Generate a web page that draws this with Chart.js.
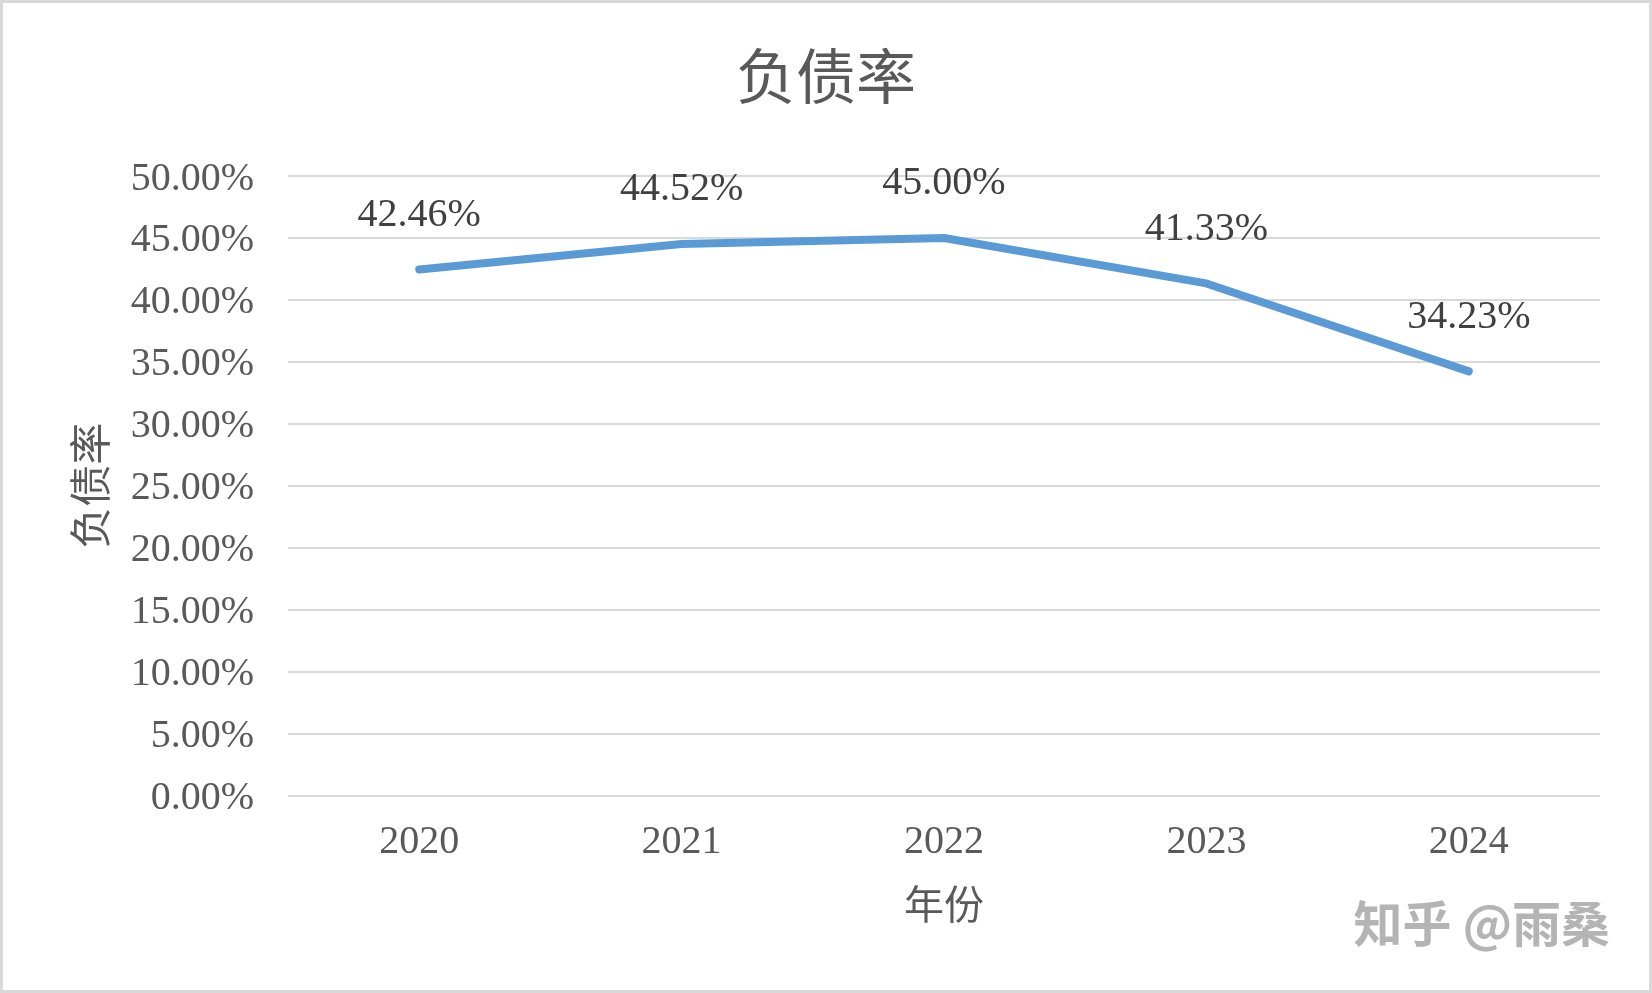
<!DOCTYPE html>
<html>
<head>
<meta charset="utf-8">
<script src="https://cdn.jsdelivr.net/npm/chart.js@4/dist/chart.umd.min.js"></script>
<style>
  body { margin: 0; background: #fff; }
  canvas { display: block; }
</style>
</head>
<body>
<canvas id="debtChart" width="1652" height="993"></canvas>
<script>
const years = ["2020", "2021", "2022", "2023", "2024"];
const debtRatio = [42.46, 44.52, 45.00, 41.33, 34.23];
const yMin = 0;
const yMax = 50;
const yStep = 5;

const cjk = '"Noto Sans CJK SC", "Noto Sans", sans-serif';
const serif = '"Liberation Serif", "DejaVu Serif", serif';

// white background + grey frame
const framePlugin = {
  id: "frame",
  beforeDraw(chart) {
    const ctx = chart.ctx;
    ctx.save();
    ctx.fillStyle = "#ffffff";
    ctx.fillRect(0, 0, chart.width, chart.height);
    ctx.restore();
  },
  afterDraw(chart) {
    const ctx = chart.ctx;
    ctx.save();
    ctx.strokeStyle = "#d9d9d9";
    ctx.lineWidth = 3;
    ctx.strokeRect(1.5, 1.5, chart.width - 3, chart.height - 3);
    // watermark
    ctx.font = "bold 49px " + cjk;
    ctx.fillStyle = "#b4b4b4";
    ctx.textAlign = "right";
    ctx.textBaseline = "middle";
    ctx.fillText("知乎 @雨桑", 1610, 923);
    ctx.restore();
  }
};

// value labels above each point
const valueLabels = {
  id: "valueLabels",
  afterDatasetsDraw(chart) {
    const ctx = chart.ctx;
    const meta = chart.getDatasetMeta(0);
    ctx.save();
    ctx.font = "40px " + serif;
    ctx.fillStyle = "#404040";
    ctx.textAlign = "center";
    ctx.textBaseline = "middle";
    meta.data.forEach((pt, i) => {
      ctx.fillText(debtRatio[i].toFixed(2) + "%", pt.x, pt.y - 54);
    });
    ctx.restore();
  }
};

new Chart(document.getElementById("debtChart"), {
  type: "line",
  data: {
    labels: years,
    datasets: [{
      label: "负债率",
      data: debtRatio,
      borderColor: "#5b9bd5",
      borderWidth: 8,
      borderCapStyle: "round",
      borderJoinStyle: "round",
      pointRadius: 0,
      tension: 0,
      fill: false
    }]
  },
  options: {
    responsive: false,
    animation: false,
    layout: { padding: { top: 10, left: 52, right: 52, bottom: 0 } },
    plugins: {
      legend: { display: false },
      tooltip: { enabled: false },
      title: {
        display: true,
        text: "负债率",
        color: "#595959",
        font: { family: cjk, size: 60, weight: "normal", lineHeight: 1.2 },
        padding: { top: 30, bottom: 64 }
      }
    },
    scales: {
      x: {
        offset: true,
        grid: { display: false, drawTicks: false },
        border: { display: false },
        ticks: {
          color: "#595959",
          font: { family: serif, size: 40 },
          padding: 23
        },
        title: {
          display: true,
          text: "年份",
          color: "#595959",
          font: { family: cjk, size: 40, lineHeight: 1.2 },
          padding: { top: 0, bottom: 65 }
        },
        afterFit(scale) { scale.height = 993 - 795.5; }
      },
      y: {
        min: yMin,
        max: yMax,
        grid: { color: "#d9d9d9", lineWidth: 2, drawTicks: false },
        border: { display: false },
        ticks: {
          stepSize: yStep,
          color: "#595959",
          font: { family: serif, size: 40 },
          padding: 34,
          labelOffset: 3,
          callback: v => v.toFixed(2) + "%"
        },
        title: {
          display: true,
          text: "负债率",
          color: "#595959",
          font: { family: cjk, size: 42, lineHeight: 1.2 },
          padding: { top: 13, bottom: 0 }
        },
        afterFit(scale) { scale.width = 236; }
      }
    }
  },
  plugins: [framePlugin, valueLabels]
});
</script>
</body>
</html>
